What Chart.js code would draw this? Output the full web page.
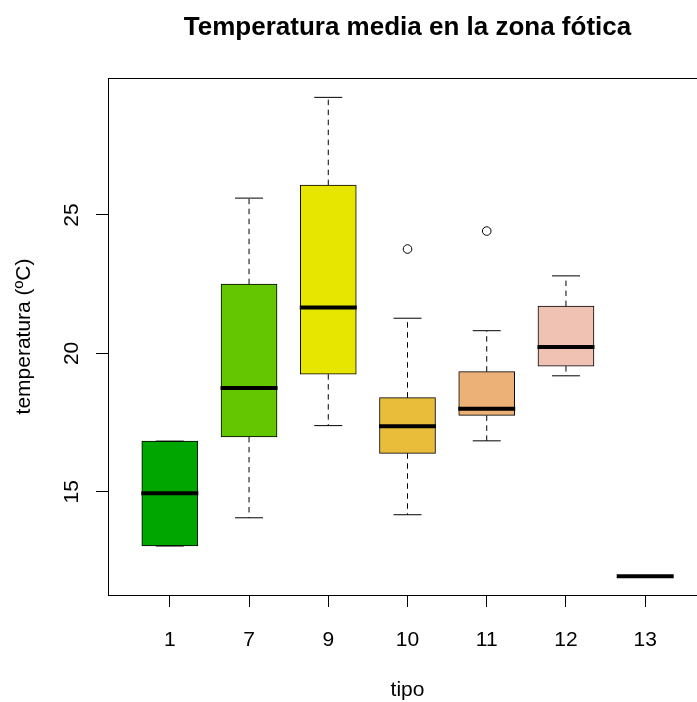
<!DOCTYPE html>
<html>
<head>
<meta charset="utf-8">
<script src="https://cdn.jsdelivr.net/npm/chart.js@4/dist/chart.umd.min.js"></script>
<style>
  html, body { margin: 0; padding: 0; background: #fff; overflow: hidden; }
  #wrap { width: 697px; height: 702px; overflow: hidden; }
  canvas { display: block; }
</style>
</head>
<body>
<div id="wrap"><canvas id="c" width="740" height="702"></canvas></div>
<script>
// Mean temperature in the photic zone, by water type
const categories = ['1', '7', '9', '10', '11', '12', '13'];
const whiskerLow  = [13.04, 14.06, 17.39, 14.17, 16.84, 19.19, 11.95];
const quartile1   = [13.04, 16.98, 19.25, 16.39, 17.76, 19.54, 11.95];
const medians     = [14.95, 18.75, 21.66, 17.37, 18.00, 20.23, 11.95];
const quartile3   = [16.83, 22.50, 26.08, 18.40, 19.34, 21.71, 11.95];
const whiskerHigh = [16.83, 25.61, 29.25, 21.27, 20.82, 22.80, 11.95];
// outliers: [category index, value]
const outliers = [[3, 23.77], [4, 24.42]];
const yTicks = [15, 20, 25];
const boxColors = ['#00A600', '#63C600', '#E6E600', '#E9BD3A', '#ECB176', '#EFC2B3', '#F2F2F2'];

const boxData = categories.map((c, i) => ({ x: i, y: [quartile1[i], quartile3[i]] }));
const whiskerData = [];
categories.forEach((c, i) => {
  whiskerData.push({ x: i, y: quartile3[i] }, { x: i, y: whiskerHigh[i] }, { x: i, y: null });
  whiskerData.push({ x: i, y: quartile1[i] }, { x: i, y: whiskerLow[i] }, { x: i, y: null });
});
const capData = [];
categories.forEach((c, i) => {
  capData.push({ x: i, y: whiskerLow[i] }, { x: i, y: whiskerHigh[i] });
});
const medianData = categories.map((c, i) => ({ x: i, y: medians[i] }));
const outlierData = outliers.map(o => ({ x: o[0], y: o[1] }));

const frame = {
  id: 'frame',
  afterDraw(chart) {
    const a = chart.chartArea, ctx = chart.ctx;
    ctx.save();
    ctx.strokeStyle = '#000';
    ctx.lineWidth = 1;
    ctx.strokeRect(Math.round(a.left) + 0.5, Math.round(a.top) + 0.5,
                   Math.round(a.right - a.left), Math.round(a.bottom - a.top));
    ctx.restore();
  }
};

Chart.defaults.font.family = '"Liberation Sans", Arial, sans-serif';
Chart.defaults.color = '#000';

new Chart(document.getElementById('c'), {
  type: 'bar',
  data: {
    datasets: [
      {
        type: 'bar', data: boxData, order: 3,
        backgroundColor: boxColors, borderColor: '#000', borderWidth: 1,
        borderSkipped: false, barThickness: 56
      },
      {
        type: 'line', data: whiskerData, order: 4,
        borderColor: '#000', borderWidth: 1, borderDash: [5.5, 4.5],
        pointRadius: 0, spanGaps: false, fill: false
      },
      {
        type: 'scatter', data: capData, order: 2,
        pointStyle: 'line', pointRadius: 14, borderColor: '#000', borderWidth: 1
      },
      {
        type: 'scatter', data: medianData, order: 1,
        pointStyle: 'line', pointRadius: 28.5, borderColor: '#000', borderWidth: 4
      },
      {
        type: 'scatter', data: outlierData, order: 0,
        pointStyle: 'circle', pointRadius: 4.3, borderColor: '#000', borderWidth: 1,
        backgroundColor: 'rgba(0,0,0,0)'
      }
    ]
  },
  options: {
    responsive: false,
    devicePixelRatio: 1,
    animation: false,
    events: [],
    layout: { padding: { left: 0, right: 33, top: 0, bottom: 0 } },
    plugins: {
      legend: { display: false },
      tooltip: { enabled: false },
      title: {
        display: true,
        fullSize: false,
        text: 'Temperatura media en la zona fótica',
        font: { size: 26, weight: 'bold' },
        color: '#000',
        padding: { top: 12, bottom: 34.8 }
      }
    },
    scales: {
      x: {
        type: 'linear',
        offset: false,
        min: -0.78, max: 6.78,
        afterBuildTicks: s => { s.ticks = categories.map((c, i) => ({ value: i })); },
        afterFit: s => { s.height = 107; },
        ticks: {
          autoSkip: false, maxRotation: 0, minRotation: 0,
          font: { size: 21 }, color: '#000', padding: 21,
          callback: (v, i) => categories[i]
        },
        grid: { display: true, offset: false, drawOnChartArea: false, drawTicks: true, tickLength: 12, tickColor: '#000', tickWidth: 1 },
        border: { display: true, color: '#000', width: 1 },
        title: { display: true, text: 'tipo', font: { size: 21, lineHeight: 1.1 }, color: '#000', padding: { top: 0, bottom: 0 } }
      },
      y: {
        type: 'linear',
        min: 11.27, max: 29.95,
        afterBuildTicks: s => { s.ticks = yTicks.map(v => ({ value: v })); },
        afterFit: s => { s.width = 108; },
        ticks: {
          font: { size: 21 }, color: '#000', padding: 11.8,
          minRotation: 90, maxRotation: 90, crossAlign: 'center',
          callback: v => String(v)
        },
        grid: { display: true, drawOnChartArea: false, drawTicks: true, tickLength: 12, tickColor: '#000', tickWidth: 1 },
        border: { display: true, color: '#000', width: 1 },
        title: { display: true, text: 'temperatura (ºC)', font: { size: 21 }, color: '#000', padding: { top: 11.5, bottom: 0 } }
      }
    }
  },
  plugins: [frame]
});
</script>
</body>
</html>
